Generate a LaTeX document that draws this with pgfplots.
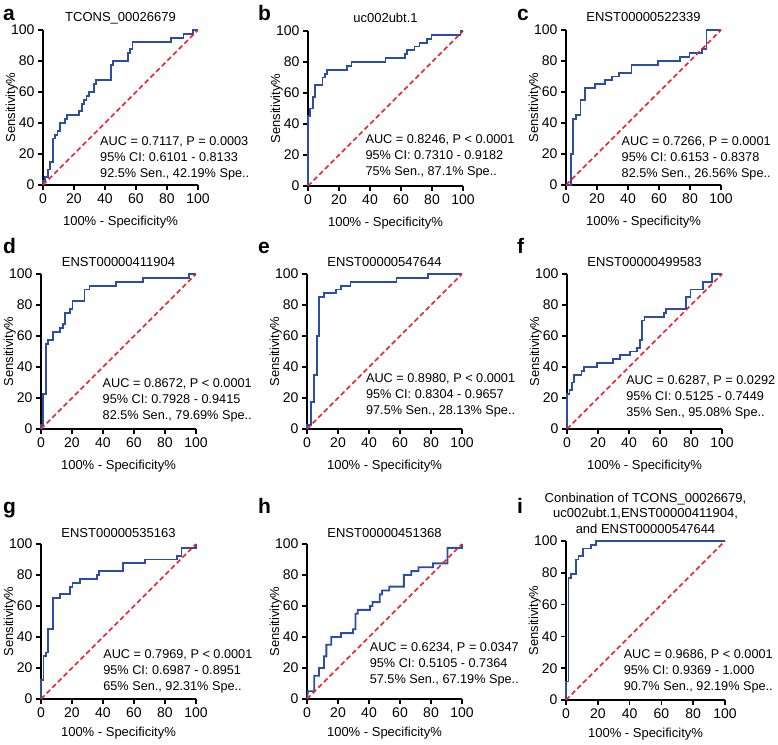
\documentclass[border=0pt]{standalone}
\usepackage{fontspec}
\setmainfont{Liberation Sans}
\usepackage{pgfplots}
\pgfplotsset{compat=1.18}
\definecolor{rocblue}{RGB}{43,77,166}
\definecolor{rocred}{RGB}{235,35,40}
\pgfplotsset{rocstyle/.style={
  width=155pt, height=155pt, scale only axis,
  xmin=0,xmax=100,ymin=0,ymax=100,
  axis lines=left, axis line style={-, line width=1.5pt},
  xtick={0,20,...,100}, ytick={0,20,...,100},
  tick align=outside, major tick length=5pt,
  tick style={line width=1.5pt, black},
  ticklabel style={font=\fontsize{14}{14}\selectfont},
  /pgf/number format/assume math mode=true,
  xlabel={100\% - Specificity\%}, ylabel={Sensitivity\%},
  label style={font=\fontsize{13}{13}\selectfont},
  xlabel style={at={(axis description cs:0.5,-0.26)},anchor=base},
  ylabel style={at={(axis description cs:-0.18,0.5)},anchor=base},
  title style={font=\fontsize{13}{13}\selectfont, at={(axis description cs:0.5,1)}, anchor=base, yshift=3pt},
  clip=false,
}}
\newcommand{\ann}[5]{%
  \node[anchor=base west, inner sep=0pt, font=\fontsize{12.7}{15}\selectfont] at (axis cs:#1,#2) {#3};
  \node[anchor=base west, inner sep=0pt, yshift=-16pt, font=\fontsize{12.7}{15}\selectfont] at (axis cs:#1,#2) {#4};
  \node[anchor=base west, inner sep=0pt, yshift=-32pt, font=\fontsize{12.7}{15}\selectfont] at (axis cs:#1,#2) {#5};
}
\newcommand{\diag}{\addplot[rocred, line width=1.5pt, dash pattern=on 5pt off 3pt] coordinates {(0,0) (100,100)};}
\begin{document}
\begin{tikzpicture}
\path[use as bounding box] (0,0) rectangle (778pt,-744pt);
\tikzset{lett/.style={anchor=base west, inner sep=0pt, font=\fontsize{21}{21}\selectfont\bfseries}}
\node[lett] at (3pt,-20pt) {a};
\node[lett] at (258pt,-20pt) {b};
\node[lett] at (517pt,-20pt) {c};
\node[lett] at (3pt,-253pt) {d};
\node[lett] at (258pt,-253pt) {e};
\node[lett] at (517pt,-253pt) {f};
\node[lett] at (3pt,-513pt) {g};
\node[lett] at (258pt,-513pt) {h};
\node[lett] at (517pt,-513pt) {i};

% a
\begin{axis}[rocstyle, at={(43pt,-185pt)}, anchor=south west, title={TCONS\_00026679}]
\addplot[rocblue, line width=1.8pt] coordinates {(0,0)(0,2.5)(1.5,2.5)(1.5,5)(3.1,5)(3.1,10)(4.7,10)(4.7,15)(6.25,15)(6.25,30)(7.8,30)(7.8,32.5)(9.4,32.5)(9.4,35)(10.9,35)(10.9,40)(14.1,40)(14.1,42.5)(15.6,42.5)(15.6,45)(23.4,45)(23.4,47.5)(25,47.5)(25,52.5)(26.6,52.5)(26.6,55)(28.1,55)(28.1,57.5)(29.7,57.5)(29.7,60)(32.8,60)(32.8,65)(34.4,65)(34.4,67.5)(43.75,67.5)(43.75,77.5)(45.3,77.5)(45.3,80)(54.7,80)(54.7,85)(56.25,85)(56.25,87.5)(57.8,87.5)(57.8,92.5)(82.8,92.5)(82.8,95)(90.6,95)(90.6,97.5)(96.9,97.5)(96.9,100)(100,100)};
\diag
\ann{36.8}{25.8}{AUC = 0.7117, P = 0.0003}{95\% CI: 0.6101 - 0.8133}{92.5\% Sen., 42.19\% Spe..}
\end{axis}

% b
\begin{axis}[rocstyle, at={(308pt,-186pt)}, anchor=south west, title={uc002ubt.1}]
\addplot[rocblue, line width=1.8pt] coordinates {(0,0)(0,45)(1.5,45)(1.5,50)(3.1,50)(3.1,57.5)(4.7,57.5)(4.7,65)(9.4,65)(9.4,70)(10.9,70)(10.9,72.5)(12.5,72.5)(12.5,75)(25,75)(25,77.5)(28.1,77.5)(28.1,80)(50,80)(50,82.5)(62.5,82.5)(62.5,85)(64.1,85)(64.1,87.5)(68.75,87.5)(68.75,90)(71.9,90)(71.9,92.5)(76.6,92.5)(76.6,95)(79.7,95)(79.7,97.5)(98.4,97.5)(98.4,100)(100,100)};
\diag
\ann{37}{27.5}{AUC = 0.8246, P < 0.0001}{95\% CI: 0.7310 - 0.9182}{75\% Sen., 87.1\% Spe..}
\end{axis}

% c
\begin{axis}[rocstyle, at={(566pt,-185pt)}, anchor=south west, title={ENST00000522339}]
\addplot[rocblue, line width=1.8pt] coordinates {(0,0)(3.1,0)(3.1,20)(4.7,20)(4.7,42.5)(6.25,42.5)(6.25,45)(9.4,45)(9.4,55)(12.5,55)(12.5,62.5)(18.75,62.5)(18.75,65)(25,65)(25,67.5)(29.7,67.5)(29.7,70)(34.4,70)(34.4,72.5)(42.2,72.5)(42.2,77.5)(59.4,77.5)(59.4,80)(73.4,80)(73.4,82.5)(79.7,82.5)(79.7,85)(87.5,85)(87.5,87.5)(90.6,87.5)(90.6,100)(100,100)};
\diag
\ann{35.8}{25.5}{AUC = 0.7266, P = 0.0001}{95\% CI: 0.6153 - 0.8378}{82.5\% Sen., 26.56\% Spe..}
\end{axis}

% d
\begin{axis}[rocstyle, at={(41pt,-429pt)}, anchor=south west, title={ENST00000411904}, title style={yshift=-1.7pt}]
\addplot[rocblue, line width=1.8pt] coordinates {(0,0)(0,2.5)(1.5,2.5)(1.5,22.5)(3.1,22.5)(3.1,55)(4.7,55)(4.7,57.5)(7.8,57.5)(7.8,62.5)(12.5,62.5)(12.5,65)(14.1,65)(14.1,67.5)(15.6,67.5)(15.6,75)(18.75,75)(18.75,77.5)(20.3,77.5)(20.3,82.5)(28.1,82.5)(28.1,90)(31.25,90)(31.25,92.5)(48.4,92.5)(48.4,95)(65.6,95)(65.6,97.5)(95.3,97.5)(95.3,100)(100,100)};
\diag
\ann{39.7}{26.5}{AUC = 0.8672, P < 0.0001}{95\% CI: 0.7928 - 0.9415}{82.5\% Sen., 79.69\% Spe..}
\end{axis}

% e
\begin{axis}[rocstyle, at={(307pt,-429pt)}, anchor=south west, title={ENST00000547644}, title style={yshift=-1.7pt}]
\addplot[rocblue, line width=1.8pt] coordinates {(0,0)(0,2.5)(2.5,2.5)(2.5,17.5)(4.7,17.5)(4.7,35)(6.25,35)(6.25,60)(7.8,60)(7.8,85)(10.9,85)(10.9,87.5)(18.75,87.5)(18.75,90)(21.9,90)(21.9,92.5)(28.1,92.5)(28.1,95)(57.8,95)(57.8,97.5)(78.1,97.5)(78.1,100)(100,100)};
\diag
\ann{38}{29.7}{AUC = 0.8980, P < 0.0001}{95\% CI: 0.8304 - 0.9657}{97.5\% Sen., 28.13\% Spe..}
\end{axis}

% f
\begin{axis}[rocstyle, at={(567pt,-429pt)}, anchor=south west, title={ENST00000499583}, title style={yshift=-1.7pt}]
\addplot[rocblue, line width=1.8pt] coordinates {(0,0)(0,22.5)(1.56,22.5)(1.56,25)(3.1,25)(3.1,30)(4.7,30)(4.7,35)(9.4,35)(9.4,37.5)(10.9,37.5)(10.9,40)(19.5,40)(19.5,42.5)(29.7,42.5)(29.7,45)(34.4,45)(34.4,47.5)(40.6,47.5)(40.6,50)(45.3,50)(45.3,52.5)(46.9,52.5)(46.9,57.5)(48.4,57.5)(48.4,70)(50,70)(50,72.5)(62.5,72.5)(62.5,75)(64.1,75)(64.1,77.5)(76.6,77.5)(76.6,85)(79.7,85)(79.7,90)(87.5,90)(87.5,95)(93.75,95)(93.75,100)(100,100)};
\diag
\ann{38.1}{28.6}{AUC = 0.6287, P = 0.0292}{95\% CI: 0.5125 - 0.7449}{35\% Sen., 95.08\% Spe..}
\end{axis}

% g
\begin{axis}[rocstyle, at={(41pt,-699pt)}, anchor=south west, title={ENST00000535163}, title style={yshift=-2.7pt}, xlabel style={at={(axis description cs:0.5,-0.24)}}]
\addplot[rocblue, line width=1.8pt] coordinates {(0,0)(0,12.5)(1.56,12.5)(1.56,27.5)(3.1,27.5)(3.1,30)(4.7,30)(4.7,45)(7.8,45)(7.8,65)(12.5,65)(12.5,67.5)(18.75,67.5)(18.75,72.5)(20.3,72.5)(20.3,75)(25,75)(25,77.5)(35.9,77.5)(35.9,80)(37.5,80)(37.5,82.5)(53.1,82.5)(53.1,87.5)(67.2,87.5)(67.2,90)(87.5,90)(87.5,92.5)(90.6,92.5)(90.6,97.5)(100,97.5)(100,100)};
\diag
\ann{40.1}{26}{AUC = 0.7969, P < 0.0001}{95\% CI: 0.6987 - 0.8951}{65\% Sen., 92.31\% Spe..}
\end{axis}

% h
\begin{axis}[rocstyle, at={(307pt,-699pt)}, anchor=south west, title={ENST00000451368}, title style={yshift=-2.7pt}, xlabel style={at={(axis description cs:0.5,-0.24)}}]
\addplot[rocblue, line width=1.8pt] coordinates {(0,0)(0.6,5)(4.7,5)(4.7,15)(7.8,15)(7.8,20)(10.9,20)(10.9,27.5)(12.5,27.5)(12.5,35)(15.6,35)(15.6,40)(21.9,40)(21.9,42.5)(29.7,42.5)(29.7,45)(31.25,45)(31.25,55)(32.8,55)(32.8,57.5)(40.6,57.5)(40.6,60)(42.2,60)(42.2,62.5)(46.9,62.5)(46.9,67.5)(48.4,67.5)(48.4,70)(53.1,70)(53.1,72.5)(62.5,72.5)(62.5,80)(67.2,80)(67.2,82.5)(71.9,82.5)(71.9,85)(81.25,85)(81.25,87.5)(90.6,87.5)(90.6,97.5)(100,97.5)(100,100)};
\diag
\ann{40.4}{30.5}{AUC = 0.6234, P = 0.0347}{95\% CI: 0.5105 - 0.7364}{57.5\% Sen., 67.19\% Spe..}
\end{axis}

% i
\begin{axis}[rocstyle, width=159pt, height=159pt, at={(566pt,-700pt)}, anchor=south west,
  title={Conbination of TCONS\_00026679,\\uc002ubt.1,ENST00000411904,\\and ENST00000547644},
  title style={align=center, anchor=south, inner sep=0pt, yshift=-1.5pt, font=\fontsize{13}{15.5}\selectfont},
  xlabel style={at={(axis description cs:0.5,-0.235)}},
  ylabel style={at={(axis description cs:-0.176,0.5)}}]
\addplot[rocblue, line width=1.8pt] coordinates {(0,0)(0,11.6)(1.56,11.6)(1.56,76.7)(3.1,76.7)(3.1,79.1)(6.25,79.1)(6.25,88.4)(7.8,88.4)(7.8,90.7)(10.9,90.7)(10.9,95.3)(15.6,95.3)(15.6,97.7)(18.75,97.7)(18.75,100)(100,100)};
\diag
\ann{36.2}{26.2}{AUC = 0.9686, P < 0.0001}{95\% CI: 0.9369 - 1.000}{90.7\% Sen., 92.19\% Spe..}
\end{axis}
\end{tikzpicture}
\end{document}
